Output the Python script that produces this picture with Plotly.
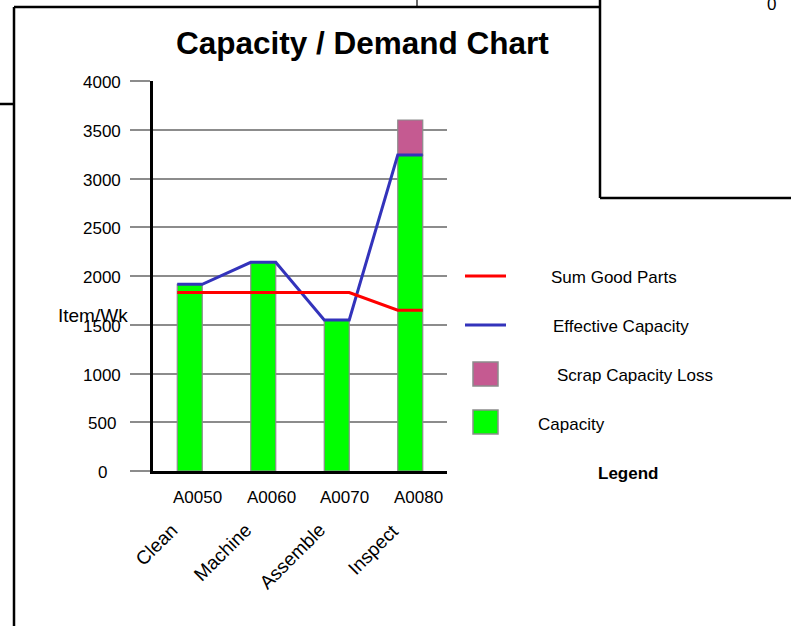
import numpy as np
import plotly.graph_objects as go

# Work centers and operations
operations = ["A0050", "A0060", "A0070", "A0080"]
op_names = ["Clean", "Machine", "Assemble", "Inspect"]

# Weekly figures (items per week)
effective_capacity = [1915, 2140, 1550, 3240]
scrap_capacity_loss = [0, 0, 0, 360]
sum_good_parts = [1830, 1830, 1830, 1650]

y_ticks = [0, 500, 1000, 1500, 2000, 2500, 3000, 3500, 4000]

FONT = "Arial, Liberation Sans, sans-serif"
GREEN = "#00FF00"
PINK = "#C55A91"
BLUE = "#3333BB"
RED = "#FF0000"
GRID = "#8C8C8C"

# Plot area placement (pixels) inside the 791 x 626 page
L, T, W, H = 153, 81, 294, 390
FIG_W, FIG_H = 791, 626


def px(x):
    return (x - L) / W


def py(y):
    return (T + H - y) / H


bar_w = 0.34
idx = np.arange(len(operations))


def step_xy(values):
    """Flat segment across each bar, joined edge to edge."""
    xs, ys = [], []
    for i, v in zip(idx, values):
        xs += [i - bar_w / 2, i + bar_w / 2]
        ys += [v, v]
    return xs, ys


fig = go.Figure()

fig.add_trace(go.Bar(
    x=idx, y=effective_capacity, width=bar_w, name="Capacity",
    marker=dict(color=GREEN, line=dict(color=GRID, width=1.2)),
))
fig.add_trace(go.Bar(
    x=idx, y=scrap_capacity_loss, width=bar_w, name="Scrap Capacity Loss",
    base=effective_capacity,
    marker=dict(color=PINK, line=dict(color=GRID, width=1.2)),
))

bx, by = step_xy(effective_capacity)
fig.add_trace(go.Scatter(x=bx, y=by, mode="lines", name="Effective Capacity",
                         line=dict(color=BLUE, width=3)))
rx, ry = step_xy(sum_good_parts)
fig.add_trace(go.Scatter(x=rx, y=ry, mode="lines", name="Sum Good Parts",
                         line=dict(color=RED, width=3)))

shapes = []


def seg(x0, y0, x1, y1, color="black", width=2.5):
    shapes.append(dict(type="line", xref="paper", yref="paper",
                       x0=px(x0), y0=py(y0), x1=px(x1), y1=py(y1),
                       line=dict(color=color, width=width), layer="above"))


def box(x0, y0, x1, y1, fill):
    shapes.append(dict(type="rect", xref="paper", yref="paper",
                       x0=px(x0), y0=py(y0), x1=px(x1), y1=py(y1),
                       fillcolor=fill, line=dict(color=GRID, width=1.5),
                       layer="above"))


# Page frame lines
seg(14, 7, 14, 640)
seg(14, 7, 600, 7)
seg(-5, 104, 14, 104)
seg(417, -5, 417, 7, width=1.2)
seg(600, -5, 600, 198)
seg(600, 198, 800, 198)

# Legend symbols
seg(465, 276, 506, 276, color=RED, width=3)
seg(465, 325, 506, 325, color=BLUE, width=3)
box(473, 362, 498, 386, PINK)
box(473, 410, 498, 434, GREEN)

annotations = []


def text(x, y, s, size=17, bold=False, xanchor="left", **kw):
    annotations.append(dict(
        xref="paper", yref="paper", x=px(x), y=py(y),
        text=f"<b>{s}</b>" if bold else s, showarrow=False,
        xanchor=xanchor, yanchor="middle",
        font=dict(family=FONT, size=size, color="black"), **kw))


text(362, 43, "Capacity / Demand Chart", size=31.5, bold=True, xanchor="center")
text(93, 315, "Item/Wk", size=19, xanchor="center")
text(771, 4, "0", size=17, xanchor="center")

text(549, 277, "Sum Good Parts")
text(551, 326, "Effective Capacity")
text(555, 375, "Scrap Capacity Loss")
text(536, 424, "Capacity")
text(628, 473, "Legend", bold=True, xanchor="center")

# Value labels on the y axis, centred in the left gutter
for v in y_ticks:
    annotations.append(dict(
        xref="paper", yref="y", x=px(102), y=v, yshift=-1.5, text=str(v),
        showarrow=False, xanchor="center", yanchor="middle",
        font=dict(family=FONT, size=17, color="black")))

# Operation codes under each bar, and rotated work-center names
for i, (code, name) in enumerate(zip(operations, op_names)):
    annotations.append(dict(
        xref="x", yref="paper", x=i, y=py(497), xshift=8, text=code,
        showarrow=False, xanchor="center", yanchor="middle",
        font=dict(family=FONT, size=17, color="black")))
    annotations.append(dict(
        xref="x", yref="paper", x=i, y=py(517), text=name, showarrow=False,
        xanchor="right", yanchor="top", textangle=-45, xshift=-5,
        font=dict(family=FONT, size=19, color="black")))

fig.update_layout(
    width=FIG_W, height=FIG_H,
    margin=dict(l=L, r=FIG_W - L - W, t=T, b=FIG_H - T - H, pad=0),
    paper_bgcolor="white", plot_bgcolor="white",
    barmode="overlay", showlegend=False,
    shapes=shapes, annotations=annotations,
    font=dict(family=FONT, size=17, color="black"),
)
fig.update_xaxes(
    range=[-0.5, 3.5], showticklabels=False, ticks="", showgrid=False,
    zeroline=False, showline=True, linecolor="black", linewidth=3,
)
fig.update_yaxes(
    range=[0, 4000], tickvals=y_ticks, ticks="outside", ticklen=20,
    tickcolor=GRID, tickwidth=1.5, showgrid=True, gridcolor=GRID, gridwidth=1.5,
    zeroline=False, showline=True, linecolor="black", linewidth=3,
    showticklabels=False,
)

fig.write_html("out.html")
